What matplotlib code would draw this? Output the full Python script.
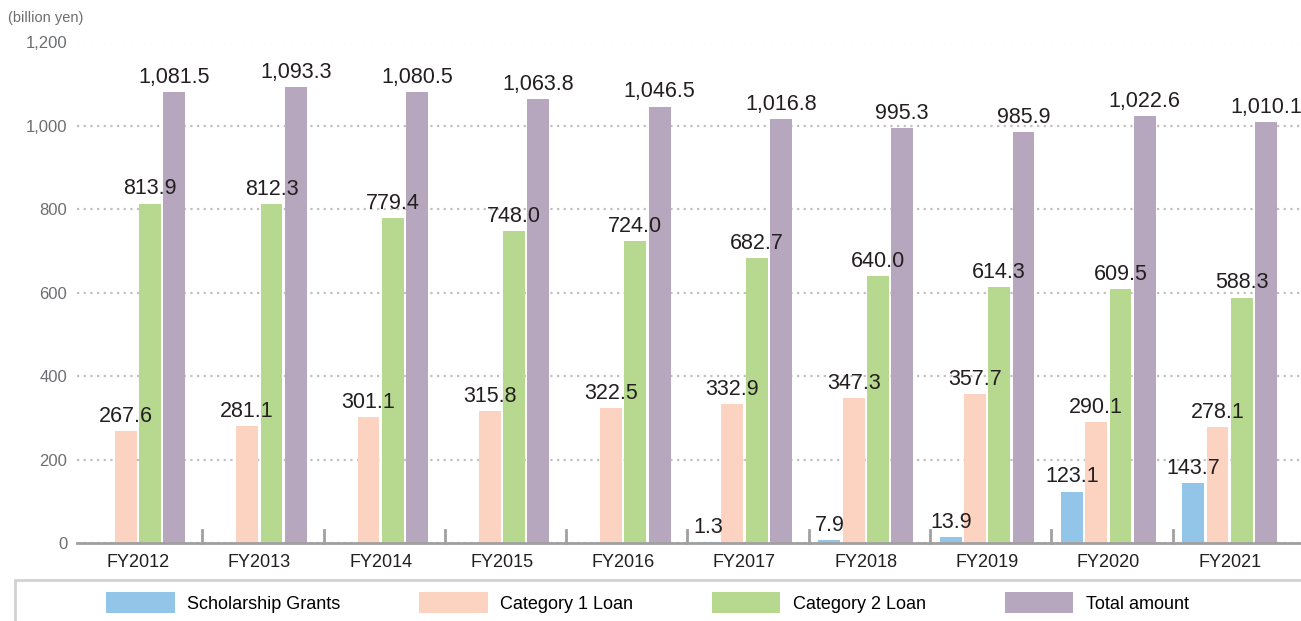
import matplotlib.pyplot as plt
from matplotlib.patches import Rectangle
import numpy as np

plt.rcParams['font.family'] = ['Liberation Sans', 'DejaVu Sans']

years = ["FY2012", "FY2013", "FY2014", "FY2015", "FY2016",
         "FY2017", "FY2018", "FY2019", "FY2020", "FY2021"]
grants = [None, None, None, None, None, 1.3, 7.9, 13.9, 123.1, 143.7]
loan1 = [267.6, 281.1, 301.1, 315.8, 322.5, 332.9, 347.3, 357.7, 290.1, 278.1]
loan2 = [813.9, 812.3, 779.4, 748.0, 724.0, 682.7, 640.0, 614.3, 609.5, 588.3]
total = [1081.5, 1093.3, 1080.5, 1063.8, 1046.5, 1016.8, 995.3, 985.9, 1022.6, 1010.1]

series = [
    ("Scholarship Grants", grants, "#92c5e8"),
    ("Category 1 Loan", loan1, "#fcd3c1"),
    ("Category 2 Loan", loan2, "#b7d98f"),
    ("Total amount", total, "#b6a7be"),
]

W, H = 1301, 621
fig = plt.figure(figsize=(W / 100, H / 100), dpi=100)
ax = fig.add_axes([77 / W, 1 - 543 / H, 1 - 77 / W, (543 - 42.5) / H])

x = np.arange(len(years))
offsets = [-0.3, -0.1, 0.1, 0.3]
handles = []
for (name, vals, color), off in zip(series, offsets):
    v = np.array([np.nan if a is None else a for a in vals])
    bars = ax.bar(x + off, np.nan_to_num(v), width=0.18, color=color, label=name, zorder=3)
    handles.append(bars)
    for xi, val in zip(x, vals):
        if val is None:
            continue
        ax.annotate(f"{val:,.1f}", (xi + off, val), xytext=(0, 3), textcoords="offset points",
                    ha="center", va="bottom", fontsize=15.5, color="#231f20",
                    annotation_clip=False, zorder=4)

ax.set_xlim(-0.503, 9.588)
ax.set_ylim(0, 1200)
ax.set_yticks(range(0, 1201, 200))
ax.set_yticklabels([f"{t:,}" for t in range(0, 1201, 200)])
ax.set_xticks(x)
ax.set_xticklabels(years)
ax.tick_params(axis="y", length=0, pad=7, labelsize=12, labelcolor="#6d6e71")
ax.tick_params(axis="x", length=0, pad=8, labelsize=13, labelcolor="#231f20")

ax.grid(True, axis="y", linestyle=(0, (1, 2)), color="#c0c0c0", linewidth=1.6, zorder=0)
for s in ["top", "right", "left"]:
    ax.spines[s].set_visible(False)
ax.spines["bottom"].set_color("#a0a0a0")
ax.spines["bottom"].set_linewidth(2)
ax.spines["bottom"].set_zorder(5)

# short separators between fiscal years
for b in x[:-1] + 0.53:
    ax.plot([b, b], [0, 0.026], transform=ax.get_xaxis_transform(), color="#a0a0a0",
            lw=2, zorder=5, clip_on=False)

fig.text(8 / W, 1 - 18 / H, "(billion yen)", fontsize=10.5, color="#6d6e71", va="center", ha="left")

# legend box
fig.patches.append(Rectangle((15 / W, -0.05), 1.1, 1 - 580 / H + 0.05, transform=fig.transFigure,
                             facecolor="none", edgecolor="#d2d2d2", linewidth=2))
fig.legend(handles=handles, loc="upper left", bbox_to_anchor=(106 / W, 1 - 592 / H),
           ncol=4, frameon=False, fontsize=13, handlelength=3.8, handleheight=1.45,
           handletextpad=0.7, columnspacing=4.35, borderpad=0, borderaxespad=0)

fig.savefig("out.png", dpi=100)
